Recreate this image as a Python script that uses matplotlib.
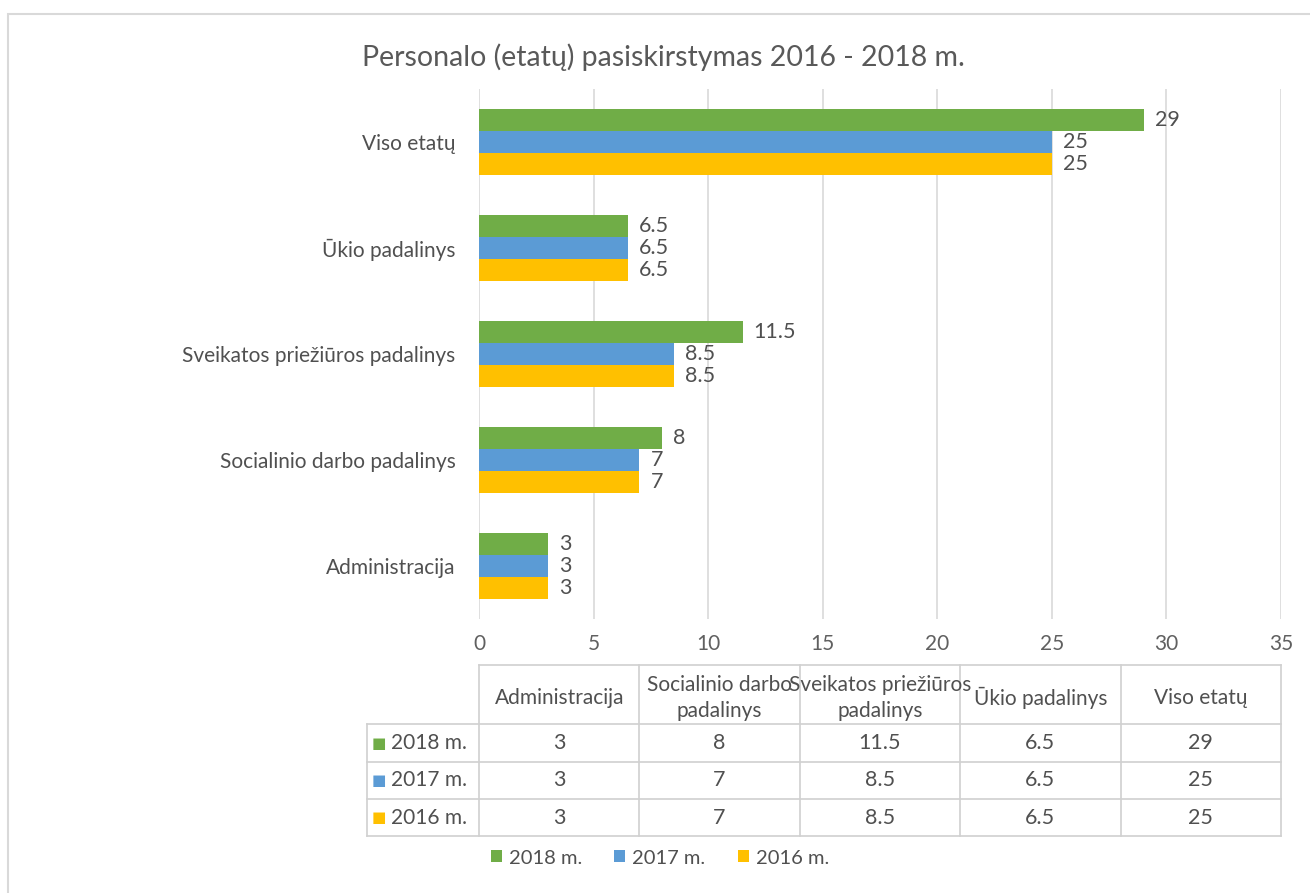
import matplotlib.pyplot as plt
from matplotlib.patches import Rectangle
from matplotlib.lines import Line2D

plt.rcParams['font.family'] = ['Lato', 'DejaVu Sans']

# --- Daten ---
categories = ['Administracija', 'Socialinio darbo padalinys', 'Sveikatos priežiūros padalinys',
              'Ūkio padalinys', 'Viso etatų']
header_labels = ['Administracija', 'Socialinio darbo\npadalinys', 'Sveikatos priežiūros\npadalinys',
                 'Ūkio padalinys', 'Viso etatų']
years = ['2018 m.', '2017 m.', '2016 m.']
v2018 = [3, 8, 11.5, 6.5, 29]
v2017 = [3, 7, 8.5, 6.5, 25]
v2016 = [3, 7, 8.5, 6.5, 25]
series = [v2018, v2017, v2016]
colors = ['#70AD47', '#5B9BD5', '#FFC000']
txt = '#505050'

W, H = 1310, 893
fig = plt.figure(figsize=(W / 100, H / 100), dpi=100)

def fx(px):
    return px / W

def fy(py):
    return 1 - py / H

# Rahmen
fig.patches.append(Rectangle((fx(8), fy(905)), fx(1320), fy(14) - fy(905),
                             transform=fig.transFigure, fill=False,
                             edgecolor='#d9d9d9', lw=1.5))

ax = fig.add_axes([fx(479), fy(619), fx(1281) - fx(479), fy(89) - fy(619)])

h = 0.21
offsets = [h, 0, -h]
bars = []
for vals, off, col, yr in zip(series, offsets, colors, years):
    ypos = [i + off for i in range(len(categories))]
    b = ax.barh(ypos, vals, height=h, color=col, label=yr)
    ax.bar_label(b, labels=[f'{v:g}' for v in vals], padding=8,
                 fontsize=15.5, color=txt)
    bars.append(b)

ax.set_xlim(0, 35)
ax.set_ylim(-0.5, len(categories) - 0.5)
ax.set_xticks(range(0, 36, 5))
ax.set_yticks(range(len(categories)))
ax.set_yticklabels(categories, fontsize=15, color=txt)
ax.tick_params(axis='both', length=0)
ax.tick_params(axis='y', pad=17)
ax.tick_params(axis='x', labelsize=15, labelcolor='#606060', pad=11)
ax.grid(axis='x', color='#d9d9d9', lw=1.2)
ax.set_axisbelow(True)
for s in ax.spines.values():
    s.set_visible(False)

fig.text(fx(663), fy(57), 'Personalo (etatų) pasiskirstymas 2016 - 2018 m.',
         ha='center', va='center', fontsize=20.5, color='#595959')

# --- Datentabelle ---
col_edges = [479 + i * 160.4 for i in range(6)]
row_edges = [665, 724, 762, 799, 836]
lc = '#d0d0d0'
def hline(y, x0, x1):
    fig.add_artist(Line2D([fx(x0), fx(x1)], [fy(y), fy(y)], color=lc, lw=1.2))
def vline(x, y0, y1):
    fig.add_artist(Line2D([fx(x), fx(x)], [fy(y0), fy(y1)], color=lc, lw=1.2))

hline(row_edges[0], 479, 1281)
for y in row_edges[1:]:
    hline(y, 367, 1281)
vline(367, row_edges[1], row_edges[-1])
for x in col_edges:
    vline(x, row_edges[0], row_edges[-1])

for j, lab in enumerate(header_labels):
    cx = (col_edges[j] + col_edges[j + 1]) / 2
    fig.text(fx(cx), fy(698), lab, ha='center', va='center', fontsize=15,
             color=txt, linespacing=1.35)

for i, (yr, vals, col) in enumerate(zip(years, series, colors)):
    cy = (row_edges[i + 1] + row_edges[i + 2]) / 2
    fig.text(fx(372), fy(cy), '■', ha='left', va='center', fontsize=11, color=col,
             family='DejaVu Sans')
    fig.text(fx(391), fy(cy), yr, ha='left', va='center', fontsize=15, color=txt)
    for j, v in enumerate(vals):
        cx = (col_edges[j] + col_edges[j + 1]) / 2
        fig.text(fx(cx), fy(cy), f'{v:g}', ha='center', va='center', fontsize=15.5,
                 color=txt)

fig.legend(handles=bars, labels=years, loc='center', bbox_to_anchor=(fx(660), fy(858)),
           ncol=3, frameon=False, fontsize=14.5, handlelength=0.55, handleheight=0.55,
           handletextpad=0.35, columnspacing=1.6, labelcolor=txt)

fig.savefig('out.png', dpi=100)
